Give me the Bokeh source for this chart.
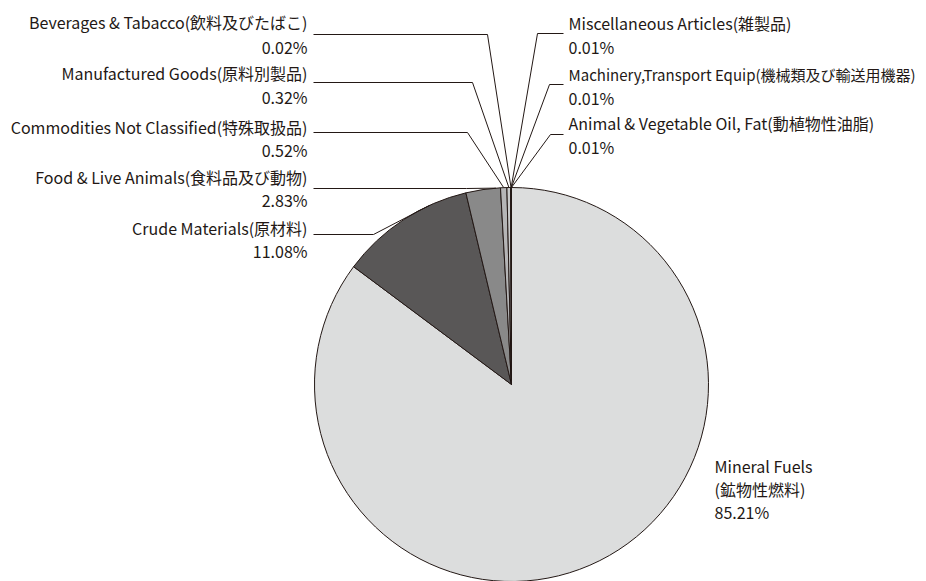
import numpy as np
from bokeh.plotting import figure
from bokeh.models import Range1d, ColumnDataSource
from bokeh.core.properties import value
from bokeh.embed import file_html
from bokeh.resources import INLINE

# ---- data ----
categories_en = ["Mineral Fuels", "Crude Materials", "Food & Live Animals",
                 "Commodities Not Classified", "Manufactured Goods",
                 "Beverages & Tabacco", "Miscellaneous Articles",
                 "Machinery,Transport Equip", "Animal & Vegetable Oil, Fat"]
categories_jp = ["鉱物性燃料", "原材料", "食料品及び動物", "特殊取扱品", "原料別製品",
                 "飲料及びたばこ", "雑製品", "機械類及び輸送用機器", "動植物性油脂"]
shares = [85.21, 11.08, 2.83, 0.52, 0.32, 0.02, 0.01, 0.01, 0.01]

# ---- styles / layout ----
colors = ["#dcdddd", "#595757", "#898989", "#b5b5b6", "#c9caca",
          "#9fa0a0", "#ffffff", "#ffffff", "#ffffff"]
TXT = "#231815"
FONT = value("Noto Sans CJK JP")
FS = "16px"
W, H = 926, 581


def X(xi):
    return xi


def Y(yi):
    return H - yi


CX, CY, R = X(511), Y(384), 197

# label layout: side, text x, line1 y, line2 y, connector y, bend x, anchor fraction, font size
layout = {
    1: ("L", 307, 227, 250, 234, 373, 0.72, FS),
    2: ("L", 307, 176, 199, 188, 466, 0.87, FS),
    3: ("L", 307, 126, 149, 132, 467, 0.5, FS),
    4: ("L", 307, 72, 96, 82, 472, 0.5, FS),
    5: ("L", 307, 21, 46, 34, 487, 0.5, FS),
    6: ("R", 568, 22, 46, 33, 537, 0.5, FS),
    7: ("R", 568, 74, 97, 84, 549, 0.5, "15px"),
    8: ("R", 568, 122, 146, 134, 550, 0.5, FS),
}

vals = np.array(shares, dtype=float)
total = vals.sum()
cum_after = np.cumsum(vals)
cum_before = cum_after - vals
start = np.pi / 2 - 2 * np.pi * cum_before / total
end = np.pi / 2 - 2 * np.pi * cum_after / total

p = figure(width=W, height=H, x_range=Range1d(0, W), y_range=Range1d(0, H),
           output_backend="svg", toolbar_location=None, min_border=0)
p.axis.visible = False
p.grid.visible = False
p.outline_line_color = None
p.background_fill_color = "white"
p.border_fill_color = "white"

src = ColumnDataSource(dict(start=start, end=end, color=colors,
                            name=categories_en, share=shares))
p.wedge(x=CX, y=CY, radius=R, start_angle="start", end_angle="end",
        direction="clock", fill_color="color", line_color=TXT,
        line_width=1, source=src)

lx, ly = [], []
tl = dict(x=[], y=[], text=[], fs=[])
tr = dict(x=[], y=[], text=[], fs=[])
for i, (side, tx, y1, y2, yc, bx, frac, fs) in layout.items():
    a = np.pi / 2 - 2 * np.pi * (cum_before[i] + frac * vals[i]) / total
    ax, ay = CX + R * np.cos(a), CY + R * np.sin(a)
    if side == "L":
        lx.append([X(313), X(bx), ax])
        tgt = tl
    else:
        lx.append([X(563), X(bx), ax])
        tgt = tr
    ly.append([Y(yc), Y(yc), ay])
    tgt["x"] += [X(tx), X(tx)]
    tgt["y"] += [Y(y1), Y(y2)]
    tgt["text"] += [f"{categories_en[i]}({categories_jp[i]})", f"{shares[i]:.2f}%"]
    tgt["fs"] += [fs, FS]

p.multi_line(xs=lx, ys=ly, line_color=TXT, line_width=1)

p.text(x="x", y="y", text="text", source=ColumnDataSource(tl),
       text_align="right", text_baseline="middle", text_font=FONT,
       text_font_size="fs", text_color=TXT)
p.text(x="x", y="y", text="text", source=ColumnDataSource(tr),
       text_align="left", text_baseline="middle", text_font=FONT,
       text_font_size="fs", text_color=TXT)

# Mineral fuels label
mf = dict(x=[X(714)] * 3, y=[Y(465), Y(488), Y(511)],
          text=[categories_en[0], f"({categories_jp[0]})", f"{shares[0]:.2f}%"])
p.text(x="x", y="y", text="text", source=ColumnDataSource(mf),
       text_align="left", text_baseline="middle", text_font=FONT,
       text_font_size=FS, text_color=TXT)

open("out.html", "w").write(file_html(p, INLINE))
